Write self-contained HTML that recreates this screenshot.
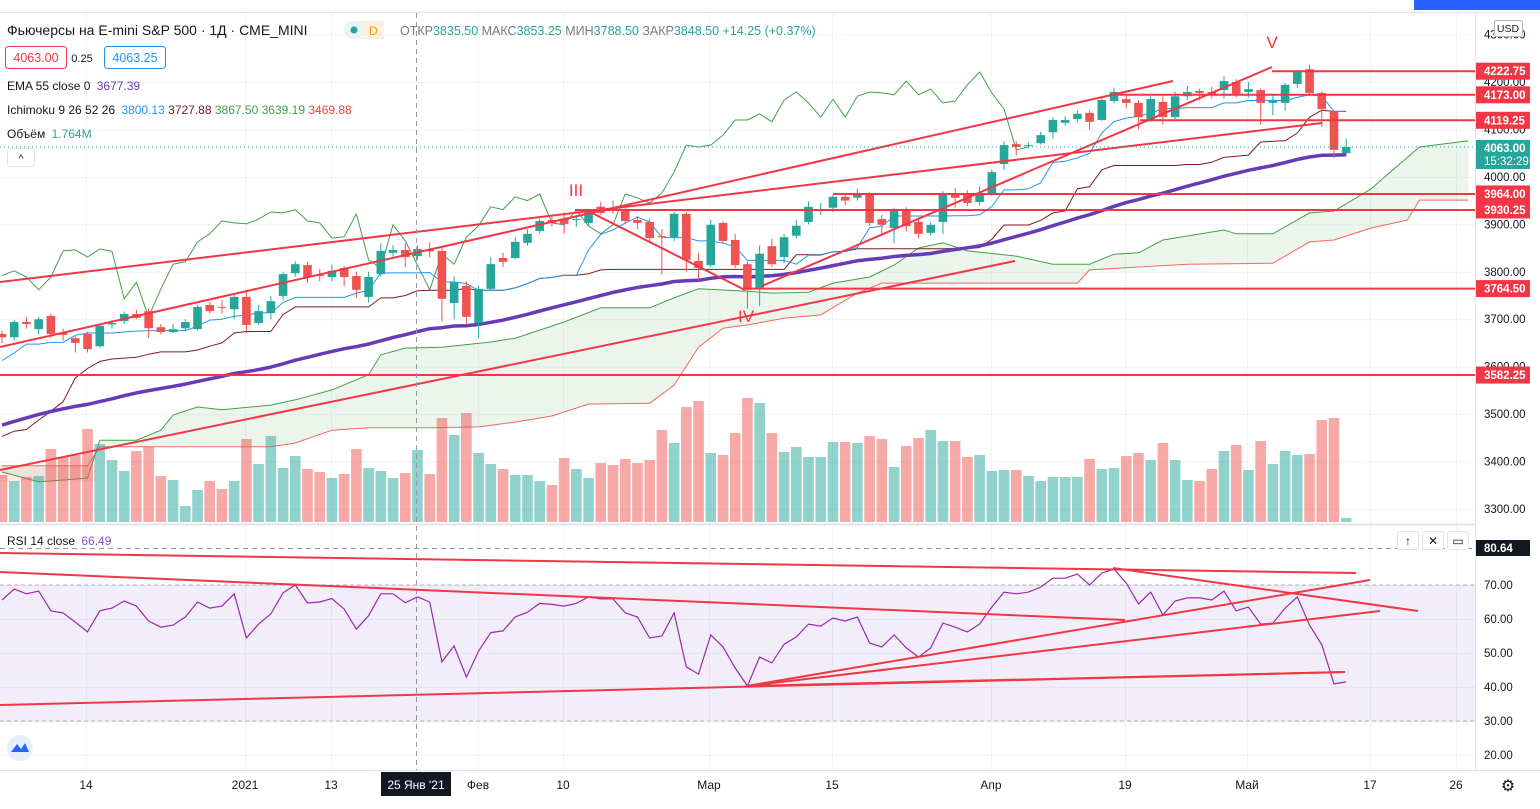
<!DOCTYPE html>
<html><head><meta charset="utf-8">
<style>
html,body{margin:0;padding:0;background:#fff;}
svg{display:block;font-family:"Liberation Sans","DejaVu Sans",sans-serif;}
</style></head>
<body>
<svg id="chart" width="1540" height="809" viewBox="0 0 1540 809" xmlns="http://www.w3.org/2000/svg">
<rect x="0" y="0" width="1540" height="809" fill="#fff"/>
<g id="grid"></g>
<g id="cloud"></g>
<g id="vol"></g>
<g id="ind"></g>
<g id="candles"></g>
<g id="draw"></g>
<g id="rsi"></g>
<g id="axes"></g>

<rect x="0" y="0" width="1540" height="12" fill="#fff"/>
<line x1="0" y1="12.5" x2="1540" y2="12.5" stroke="#e0e3eb"/>
<rect x="1414" y="0" width="126" height="10" fill="#2962ff"/>
<text x="7" y="35" font-size="14" fill="#131722">Фьючерсы на E-mini S&amp;P 500 · 1Д · CME_MINI</text>
<rect x="344" y="21" width="40" height="18" rx="9" fill="#eaf4f1"/>
<rect x="364" y="21" width="20" height="18" fill="#fdf0e0"/>
<circle cx="354" cy="30" r="3.5" fill="#26a69a"/>
<text x="369" y="35" font-size="12" fill="#ff9800">D</text>
<text x="400" y="35" font-size="12.5" fill="#787b86">ОТКР<tspan fill="#26a69a">3835.50</tspan> МАКС<tspan fill="#26a69a">3853.25</tspan> МИН<tspan fill="#26a69a">3788.50</tspan> ЗАКР<tspan fill="#26a69a">3848.50</tspan> <tspan fill="#26a69a">+14.25 (+0.37%)</tspan></text>
<rect x="5.5" y="46.5" width="61" height="22" rx="3" fill="#fff" stroke="#f23645"/>
<text x="36" y="62" font-size="12.5" fill="#f23645" text-anchor="middle">4063.00</text>
<text x="82" y="62" font-size="11" fill="#131722" text-anchor="middle">0.25</text>
<rect x="104.5" y="46.5" width="61" height="22" rx="3" fill="#fff" stroke="#2196f3"/>
<text x="135" y="62" font-size="12.5" fill="#2196f3" text-anchor="middle">4063.25</text>
<text x="7" y="90" font-size="12" fill="#131722">EMA 55 close 0 <tspan fill="#673ab7" dx="3">3677.39</tspan></text>
<text x="7" y="114" font-size="12" fill="#131722">Ichimoku 9 26 52 26 <tspan fill="#2196f3" dx="3">3800.13</tspan> <tspan fill="#801922">3727.88</tspan> <tspan fill="#43a047">3867.50</tspan> <tspan fill="#43a047">3639.19</tspan> <tspan fill="#f44336">3469.88</tspan></text>
<text x="7" y="138" font-size="12" fill="#131722">Объём <tspan fill="#26a69a" dx="3">1.764M</tspan></text>
<rect x="7.5" y="148.5" width="27" height="18" rx="3" fill="#fff" stroke="#e0e3eb"/>
<text x="21" y="162" font-size="11" fill="#131722" text-anchor="middle">^</text>

<script>
// ---------- DATA ----------
const opens=[3669,3662,3694,3679,3707,3671,3660,3669,3643,3689,3696,3711,3717,3683,3673,3681,3679,3730,3726,3721,3747,3692,3713,3749,3797,3814,3793,3789,3808,3791,3747,3795,3840,3846,3833,3846,3844,3734,3770,3692,3764,3829,3829,3861,3886,3909,3912,3909,3903,3937,3933,3932,3909,3905,3875,3873,3922,3823,3814,3903,3867,3816,3766,3854,3831,3876,3905,3928,3935,3958,3956,3964,3911,3892,3928,3905,3882,3905,3966,3966,3947,3966,4027,4069,4066,4071,4094,4114,4122,4135,4120,4160,4164,4156,4120,4158,4126,4170,4181,4179,4183,4200,4179,4183,4156,4156,4196,4227,4177,4139,4050];
const closes=[3662,3694,3690,3700,3669,3667,3650,3637,3686,3692,3711,3703,3681,3673,3679,3694,3726,3717,3725,3747,3688,3717,3738,3795,3816,3789,3792,3802,3789,3762,3789,3844,3846,3831,3848,3843,3743,3778,3705,3764,3816,3821,3863,3880,3907,3903,3901,3911,3926,3924,3931,3907,3903,3871,3874,3922,3825,3808,3899,3865,3814,3762,3838,3816,3873,3897,3937,3931,3958,3950,3964,3903,3899,3930,3896,3880,3899,3964,3956,3945,3966,4010,4067,4063,4067,4088,4120,4120,4133,4116,4162,4179,4156,4126,4164,4126,4170,4179,4177,4173,4202,4173,4185,4156,4160,4194,4221,4177,4143,4057,4063];
const highs=[3676,3698,3705,3705,3712,3680,3664,3674,3690,3698,3716,3720,3722,3690,3690,3700,3730,3736,3740,3752,3758,3730,3748,3800,3822,3822,3806,3815,3812,3800,3800,3860,3856,3860,3856,3862,3852,3790,3780,3770,3830,3840,3872,3890,3912,3916,3925,3920,3932,3948,3950,3940,3918,3912,3890,3926,3926,3840,3910,3906,3880,3822,3856,3870,3880,3910,3948,3945,3962,3964,3975,3968,3920,3935,3936,3915,3905,3970,3976,3972,3980,4015,4075,4075,4072,4095,4126,4128,4140,4140,4170,4188,4174,4162,4170,4170,4180,4192,4186,4190,4212,4206,4200,4186,4174,4198,4225,4236,4180,4140,4080];
const lows=[3650,3655,3680,3668,3660,3655,3630,3630,3640,3680,3690,3700,3660,3668,3670,3676,3676,3712,3712,3700,3670,3688,3700,3740,3790,3776,3780,3780,3770,3745,3735,3790,3832,3810,3825,3830,3695,3700,3688,3660,3760,3810,3826,3855,3880,3895,3880,3895,3897,3920,3922,3900,3890,3860,3794,3865,3800,3780,3810,3860,3808,3722,3728,3810,3818,3870,3900,3920,3926,3940,3950,3897,3880,3860,3885,3870,3875,3880,3935,3938,3940,3960,4015,4045,4060,4068,4080,4108,4115,4100,4118,4155,4145,4100,4116,4110,4122,4162,4162,4165,4165,4167,4168,4110,4130,4140,4188,4170,4105,4040,4047];
// bars before the visible window (for Ichimoku lookback)
const priorHighs=[3330,3290,3330,3380,3450,3520,3520,3650,3560,3580,3580,3590,3630,3630,3620,3590,3590,3600,3640,3640,3640,3640,3670,3670];
const priorLows=[3260,3230,3270,3300,3340,3440,3480,3510,3520,3530,3520,3530,3580,3590,3560,3540,3550,3560,3590,3610,3620,3590,3620,3630];
const volumes=[470,410,450,460,730,650,670,930,780,620,510,710,750,460,420,160,320,410,330,410,830,580,860,540,660,530,500,440,480,730,540,510,440,490,720,480,1040,870,1090,690,580,530,470,470,410,370,640,530,440,590,570,630,590,620,920,790,1150,1210,690,670,890,1240,1190,890,700,750,650,650,800,800,790,860,830,550,760,840,920,810,810,650,670,510,520,520,460,410,450,450,450,630,530,540,660,690,620,790,620,420,410,530,710,770,520,810,580,710,670,680,1020,1040,40];
const rsiValues=[65.6,68.8,67.4,68.2,62.4,61.8,59.1,56.2,62.4,63.2,65.3,63.8,59.4,57.6,58.2,60.6,65.0,63.2,63.8,67.4,54.4,58.5,61.5,67.7,70,64.7,65.0,66.0,62.9,57,61,67.4,67.4,64.8,66.5,65.0,47.4,52.1,42.9,50.6,56.0,56.5,60.6,62.0,64.6,64.3,63.8,64.6,66.5,65.9,65.9,61.8,60.6,54.4,55,61.8,45.9,43.8,55.3,51.8,45.6,40.3,48.8,47.1,52.6,54.7,58.5,57.9,60.3,59.4,60.6,52.9,51.8,55.3,51.5,48.8,51.5,58.8,57.6,56.2,58.5,63.5,67.9,67.4,67.9,69.4,72.0,72.0,73.2,70,73.5,74.7,70.6,64.4,67.9,61.2,65.3,66.2,66.2,65.6,68.2,62.4,63.5,58.5,58.8,63.2,66.5,58.2,52.4,40.9,41.5];
const spanAIdx=[0,3,7,8,11,13,14,16,18,22,24,27,30,31,33,36,40,42,46,49,53,55,57,61,63,66,68,71,73,75,77,79,83,86,89,91,93,95,100,101,104,107,109,112,114,116,120];
const spanAVal=[3378,3357,3365,3445,3445,3466,3498,3515,3509,3519,3530,3551,3583,3625,3639,3641,3652,3660,3694,3724,3724,3745,3764,3759,3755,3757,3776,3789,3814,3850,3861,3844,3833,3816,3816,3837,3840,3867,3888,3880,3880,3924,3928,3974,4019,4063,4076];
const spanBIdx=[0,7,8,22,24,27,30,35,39,42,45,48,53,55,57,59,61,64,67,70,72,88,89,97,104,107,109,112,115,116,120];
const spanBVal=[3391,3391,3431,3431,3439,3466,3471,3471,3473,3483,3496,3521,3523,3561,3641,3681,3688,3702,3709,3755,3776,3776,3804,3816,3818,3863,3867,3892,3909,3951,3951];
const emaSeed=3470;
const priceTicks=[4300,4200,4100,4000,3900,3800,3700,3600,3500,3400,3300];
const rsiTicks=[70,60,50,40,30,20];
const dateLabels=["14","2021","13","Фев","10","Мар","15","Апр","19","Май","17","26"];
const dateX=[86,245,331,478,563,709,832,991,1125,1247,1370,1456];
const levelPrices=[4222.75,4173.00,4119.25,3964.00,3930.25,3764.50,3582.25];

// ---------- SCALES ----------
const PX0=2, STEP=12.22;
function xs(i){return PX0+i*STEP;}
function py(p){return 82+(4200-p)*0.4744;}
function ry(v){return 585+(70-v)*3.4;}
function vy(v){return 522-v/10;}
const NS="http://www.w3.org/2000/svg";
function mk(tag,attrs,parent){const e=document.createElementNS(NS,tag);for(const k in attrs)e.setAttribute(k,attrs[k]);if(parent)parent.appendChild(e);return e;}
const G=id=>document.getElementById(id);
const UP="#26a69a", DN="#ef5350";

// ---------- GRID ----------
const grid=G('grid');
priceTicks.forEach(p=>{const l=mk('line',{x1:0,x2:1475,y1:py(p)+.5,y2:py(p)+.5,stroke:'#f0f3fa'},grid);

});
rsiTicks.forEach(v=>{const l=mk('line',{x1:0,x2:1475,y1:ry(v)+.5,y2:ry(v)+.5,stroke:'#f0f3fa'},grid);

});
dateX.forEach(x=>{const l=mk('line',{x1:x+.5,x2:x+.5,y1:13,y2:770,stroke:'#f0f3fa'},grid);

});

// ---------- CLOUD ----------
const cloud=G('cloud');
function poly(idx,val){return idx.map((i,k)=>xs(i).toFixed(1)+','+py(val[k]).toFixed(1));}
const aPts=poly(spanAIdx,spanAVal), bPts=poly(spanBIdx,spanBVal);
const fill=mk('polygon',{points:aPts.concat(bPts.slice().reverse()).join(' '),fill:'rgba(67,160,71,0.1)'},cloud);


const pink=mk('rect',{x:0,y:py(spanBVal[0]),width:xs(7.7),height:py(spanAVal[1])-py(spanBVal[0]),fill:'rgba(244,67,54,0.1)'},cloud);


const la=mk('polyline',{points:aPts.join(' '),fill:'none',stroke:'#43a047','stroke-width':1},cloud);


const lb=mk('polyline',{points:bPts.join(' '),fill:'none',stroke:'#f44336','stroke-width':1,'stroke-opacity':0.8},cloud);



// ---------- VOLUME ----------
const vol=G('vol');
volumes.forEach((v,i)=>{const up=closes[i]>=opens[i];
const r=mk('rect',{x:xs(i)-5.3,y:vy(v),width:10.6,height:522-vy(v),fill:up?'rgba(38,166,154,0.5)':'rgba(239,83,80,0.5)'},vol);

});

// ---------- INDICATORS ----------
const ind=G('ind');
const allH=priorHighs.concat(highs), allL=priorLows.concat(lows), OFF=priorHighs.length;
function mid(i,n){let h=-1e9,l=1e9;const j=i+OFF;for(let k=Math.max(0,j-n+1);k<=j;k++){h=Math.max(h,allH[k]);l=Math.min(l,allL[k]);}return (h+l)/2;}
let conv=[],base=[],ema=[],e=emaSeed;const a=2/56;
closes.forEach((c,i)=>{conv.push(mid(i,9));base.push(mid(i,26));e=e+a*(c-e);ema.push(e);});
function line(vals,startIdx,color,w,name){const pts=vals.map((v,k)=>xs(k+startIdx).toFixed(1)+','+py(v).toFixed(1)).join(' ');
const pl=mk('polyline',{points:pts,fill:'none',stroke:color,'stroke-width':w,'stroke-linejoin':'round'},ind);

}
line(closes.slice(26),0,'#43a047',1,'lagging-span');
line(base,0,'#801922',1,'base-line');
line(conv,0,'#2196f3',1,'conversion-line');
line(ema,0,'#673ab7',3.5,'ema-55');

// ---------- CANDLES ----------
const cg=G('candles');
opens.forEach((o,i)=>{const c=closes[i],up=c>=o,col=up?UP:DN,x=xs(i);
const w=mk('line',{x1:x,x2:x,y1:py(highs[i]),y2:py(lows[i]),stroke:col,'stroke-width':1},cg);


const t=py(Math.max(o,c)),b=py(Math.min(o,c));
const r=mk('rect',{x:x-4.3,y:t,width:8.6,height:Math.max(1,b-t),fill:col},cg);

});

// ---------- DRAWINGS ----------
const dr=G('draw');
const RED="#f23645";
const trendLines=[[0,282,1322,123],[0,347,1173,81],[762,286,1272,67],[0,470,1015,261],[590,212,745,290]];
trendLines.forEach(s=>{const l=mk('line',{x1:s[0],y1:s[1],x2:s[2],y2:s[3],stroke:RED,'stroke-width':2},dr);

});
const levelStart=[1272,1110,1140,833,575,745,0];
levelPrices.forEach((p,k)=>{const l=mk('line',{x1:levelStart[k],x2:1475,y1:py(p),y2:py(p),stroke:RED,'stroke-width':2},dr);

});
[["III",576,196],["IV",746,322],["V",1272,48]].forEach(t=>{const tx=mk('text',{x:t[1],y:t[2],'font-size':17,fill:RED,'text-anchor':'middle'},dr);tx.textContent=t[0];

});
const cp=mk('line',{x1:0,x2:1475,y1:py(4063),y2:py(4063),stroke:'#26a69a','stroke-dasharray':'1 3'},dr);


const ch=mk('line',{x1:416.5,x2:416.5,y1:13,y2:770,stroke:'#9598a1','stroke-dasharray':'5 4'},dr);



// ---------- RSI ----------
const rg=G('rsi');
const sep=mk('line',{x1:0,x2:1540,y1:524.5,y2:524.5,stroke:'#e0e3eb','stroke-width':2},rg);


const band=mk('rect',{x:0,y:ry(70),width:1475,height:ry(30)-ry(70),fill:'rgba(126,87,194,0.1)'},rg);


[70,30].forEach(v=>{const l=mk('line',{x1:0,x2:1475,y1:ry(v),y2:ry(v),stroke:'#b2b5be','stroke-dasharray':'4 3'},rg);

});
const hl=mk('line',{x1:0,x2:1475,y1:548.5,y2:548.5,stroke:'#9598a1','stroke-dasharray':'5 4'},rg);


const rl=mk('polyline',{points:rsiValues.map((v,i)=>xs(i).toFixed(1)+','+ry(v).toFixed(1)).join(' '),fill:'none',stroke:'#9c27b0','stroke-width':1.2},rg);


const rsiLines=[[0,553,1356,573],[0,572,1125,620],[1113,568,1418,611],[0,705,1345,672],[747,686,1370,580],[747,686,1380,611],[747,686,1345,672]];
rsiLines.forEach(s=>{const l=mk('line',{x1:s[0],y1:s[1],x2:s[2],y2:s[3],stroke:RED,'stroke-width':2},rg);

});
const rt=mk('text',{x:7,y:545,'font-size':12,fill:'#131722'},rg);rt.textContent='RSI 14 close ';


const rv=mk('tspan',{fill:'#7e57c2',dx:3},rt);rv.textContent='66.49';


[["↑",1408],["✕",1433],["▭",1458]].forEach(b=>{const r=mk('rect',{x:b[1]-10.5,y:531.5,width:21,height:18,rx:2,fill:'#fff',stroke:'#e0e3eb'},rg);


const t=mk('text',{x:b[1],y:545,'font-size':12,fill:'#131722','text-anchor':'middle'},rg);t.textContent=b[0];

});
const logo=mk('circle',{cx:20,cy:748,r:13,fill:'#e3effd'},rg);


const lp=mk('path',{d:'M11 752 L17 744 L21 749 L25 743 L29 752 Z',fill:'#2962ff'},rg);



// ---------- AXES ----------
const ax=G('axes');
const rb=mk('rect',{x:1475,y:13,width:65,height:757,fill:'#fff'},ax);


const axl=mk('line',{x1:1475.5,x2:1475.5,y1:13,y2:770,stroke:'#e0e3eb'},ax);


priceTicks.forEach(p=>{const t=mk('text',{x:1484,y:py(p)+4,'font-size':11.5,fill:'#131722'},ax);t.textContent=p.toFixed(2);

});
rsiTicks.forEach(v=>{const t=mk('text',{x:1484,y:ry(v)+4,'font-size':11.5,fill:'#131722'},ax);t.textContent=v.toFixed(2);

});
function tag(y,txt,bg,h,name){const r=mk('rect',{x:1476,y:y-h/2,width:54,height:h,fill:bg},ax);


const t=mk('text',{x:1484,y:y+4,'font-size':11.5,fill:'#fff','font-weight':'bold'},ax);t.textContent=txt;

}
levelPrices.forEach(p=>tag(py(p),p.toFixed(2),RED,17,'level-price-tag'));
const lt=mk('rect',{x:1476,y:140,width:54,height:29,fill:'#26a69a'},ax);


const lt1=mk('text',{x:1484,y:152,'font-size':11.5,fill:'#fff','font-weight':'bold'},ax);lt1.textContent='4063.00';


const lt2=mk('text',{x:1484,y:165,'font-size':11.5,fill:'#fff'},ax);lt2.textContent='15:32:29';


tag(548,'80.64','#131722',16,'rsi-crosshair-tag');
const ub=mk('rect',{x:1494.5,y:20.5,width:28,height:16,rx:2,fill:'#fff',stroke:'#b2b5be'},ax);


const ut=mk('text',{x:1508,y:32,'font-size':10.5,fill:'#131722','text-anchor':'middle'},ax);ut.textContent='USD';


const tb=mk('rect',{x:0,y:770,width:1540,height:39,fill:'#fff'},ax);


const tbl=mk('line',{x1:0,x2:1540,y1:770.5,y2:770.5,stroke:'#e0e3eb'},ax);


dateLabels.forEach((d,k)=>{const t=mk('text',{x:dateX[k],y:789,'font-size':12,fill:'#131722','text-anchor':'middle'},ax);t.textContent=d;

});
const cb=mk('rect',{x:381,y:772,width:70,height:24,fill:'#131722'},ax);


const ct=mk('text',{x:416,y:789,'font-size':12,fill:'#fff','text-anchor':'middle'},ax);ct.textContent="25 Янв '21";


const gear=mk('text',{x:1508,y:791,'font-size':16,fill:'#131722','text-anchor':'middle'},ax);gear.textContent='⚙';


</script>
</svg>
</body></html>
